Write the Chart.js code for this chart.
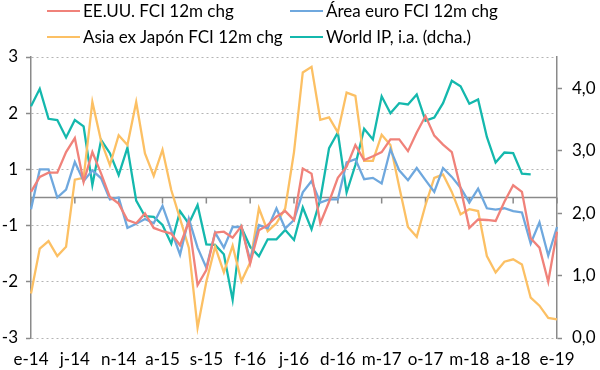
<!DOCTYPE html>
<html>
<head>
<meta charset="utf-8">
<script src="https://cdn.jsdelivr.net/npm/chart.js@4"></script>
<style>
	body { margin: 0; background: #fff; }
	#wrap { position: relative; width: 600px; height: 370px; }
	#legend { position: absolute; left: 0; top: 0; width: 600px; height: 50px; font: 17px Lato, sans-serif; color: #000; }
	.legend-item { position: absolute; height: 20px; line-height: 20px; display: flex; align-items: center; white-space: nowrap; }
	.legend-swatch { width: 33px; height: 2px; margin-right: 3px; }
</style>
</head>
<body>
<div id="wrap">
	<canvas id="chart-canvas" width="600" height="370"></canvas>
	<div id="legend"></div>
</div>
<script>
var months = [
	"e-14","f-14","m-14","a-14","m-14","j-14","j-14","a-14","s-14","o-14","n-14","d-14",
	"e-15","f-15","m-15","a-15","m-15","j-15","j-15","a-15","s-15","o-15","n-15","d-15",
	"e-16","f-16","m-16","a-16","m-16","j-16","j-16","a-16","s-16","o-16","n-16","d-16",
	"e-17","f-17","m-17","a-17","m-17","j-17","j-17","a-17","s-17","o-17","n-17","d-17",
	"e-18","f-18","m-18","a-18","m-18","j-18","j-18","a-18","s-18","o-18","n-18","d-18",
	"e-19"
];

var usFci = [
	0.12, 0.44, 0.53, 0.53, 0.97, 1.27, 0.33, 0.97, 0.51, 0.01, -0.13, -0.48,
	-0.55, -0.34, -0.65, -0.72, -0.77, -1.02, -0.52, -1.87, -1.55, -0.75, -0.73, -0.86,
	-0.61, -1.41, -0.70, -0.59, -0.41, -0.29, -0.48, 0.62, 0.51, -0.55, -0.09, 0.42,
	0.66, 1.12, 0.80, 0.88, 0.97, 1.24, 1.24, 0.99, 1.39, 1.74, 1.32, 1.13,
	0.97, 0.20, -0.65, -0.47, -0.48, -0.50, -0.09, 0.26, 0.12, -0.87, -1.07, -1.80,
	-0.73
];

var euroFci = [
	-0.25, 0.60, 0.60, 0.00, 0.17, 0.76, 0.35, 0.58, 0.41, -0.04, 0.00, -0.65,
	-0.56, -0.46, -0.55, -0.18, -0.70, -1.22, -0.45, -1.07, -1.50, -0.75, -1.07, -0.63,
	-0.63, -1.34, -0.59, -0.66, -0.23, -0.66, -0.48, 0.11, 0.35, -0.11, -0.04, -0.04,
	0.75, 0.82, 0.39, 0.42, 0.30, 1.03, 0.58, 0.37, 0.63, 0.37, 0.12, 0.63,
	0.44, 0.21, -0.11, 0.19, -0.23, -0.26, -0.23, -0.29, -0.32, -0.98, -0.53, -1.24,
	-0.63
];

var asiaFci = [
	-2.05, -1.09, -0.93, -1.25, -1.05, 0.38, 0.42, 2.04, 1.20, 0.69, 1.33, 1.12,
	2.04, 0.94, 0.46, 1.02, 0.16, -0.45, -1.07, -2.78, -1.80, -1.05, -1.60, -1.03,
	-1.79, -1.39, -0.23, -0.72, -0.55, -0.23, 0.97, 2.67, 2.79, 1.66, 1.71, 1.39,
	2.24, 2.17, 0.78, 0.78, 1.34, 1.12, 0.23, -0.63, -0.84, -0.16, 0.42, 0.49,
	0.12, -0.36, -0.25, -0.29, -1.25, -1.60, -1.37, -1.32, -1.43, -2.14, -2.31, -2.57,
	-2.60
];

var worldIp = [
	3.71, 3.99, 3.51, 3.49, 3.21, 3.49, 3.39, 2.45, 3.17, 2.96, 2.61, 3.05,
	2.20, 1.95, 1.94, 1.81, 1.51, 2.03, 1.83, 2.13, 1.50, 1.49, 1.34, 0.61,
	1.77, 1.46, 1.31, 1.58, 1.58, 1.73, 1.57, 2.09, 1.74, 2.22, 3.04, 3.29,
	2.33, 2.77, 3.35, 3.18, 3.87, 3.60, 3.76, 3.74, 3.90, 3.48, 3.53, 3.76,
	4.12, 4.03, 3.75, 3.82, 3.22, 2.81, 2.97, 2.96, 2.63, 2.62, null, null,
	null
];

var seriesNames = ["EE.UU. FCI 12m chg", "Área euro FCI 12m chg", "Asia ex Japón FCI 12m chg", "World IP, i.a. (dcha.)"];
var seriesColors = ["#f0827a", "#6fa8de", "#fcc064", "#14b8ad"];

window.onload = function() {
	buildLegend();
	drawChart();
}

function buildLegend() {
	var legend = document.getElementById("legend");
	var columnsLeft = [47, 290];
	var rowsTop = [1, 27];

	for(let i = 0; i < seriesNames.length; i++) {
		var item = document.createElement("div");
		var swatch = document.createElement("span");
		var label = document.createElement("span");

		item.className = "legend-item";
		item.style.left = columnsLeft[i % 2] + "px";
		item.style.top = rowsTop[Math.floor(i / 2)] + "px";

		swatch.className = "legend-swatch";
		swatch.style.background = seriesColors[i];

		label.innerText = seriesNames[i];

		item.appendChild(swatch);
		item.appendChild(label);
		legend.appendChild(item);
	}
}

// zero line of the left axis, with the month ticks hanging below it
var zeroAxisPlugin = {
	id: "zeroAxis",
	beforeDatasetsDraw: function(chart) {
		var ctx = chart.ctx;
		var area = chart.chartArea;
		var xScale = chart.scales.x;
		var y0 = chart.scales.y.getPixelForValue(0);

		ctx.save();
		ctx.strokeStyle = "#8a8a8a";
		ctx.lineWidth = 1.5;
		ctx.beginPath();
		ctx.moveTo(area.left, y0);
		ctx.lineTo(area.right, y0);
		for(let i = 0; i < months.length; i += 5) {
			var px = xScale.getPixelForValue(i);
			ctx.moveTo(px, y0);
			ctx.lineTo(px, y0 + 6);
		}
		ctx.stroke();
		ctx.restore();
	}
};

function makeDataset(index, values, axis) {
	return {
		label: seriesNames[index],
		data: values,
		yAxisID: axis,
		borderColor: seriesColors[index],
		backgroundColor: seriesColors[index],
		borderWidth: 2.3,
		pointRadius: 0,
		tension: 0,
		spanGaps: false
	};
}

function drawChart() {
	Chart.defaults.font.family = "Lato, sans-serif";
	Chart.defaults.font.size = 17;
	Chart.defaults.color = "#000";

	window.fciChart = new Chart(document.getElementById("chart-canvas"), {
		type: "line",
		data: {
			labels: months,
			datasets: [
				makeDataset(0, usFci, "y"),
				makeDataset(1, euroFci, "y"),
				makeDataset(2, asiaFci, "y"),
				makeDataset(3, worldIp, "y1")
			]
		},
		options: {
			responsive: false,
			animation: false,
			layout: {
				padding: { top: 57, left: 0, right: 0, bottom: 0 }
			},
			plugins: {
				legend: { display: false },
				tooltip: { enabled: false }
			},
			scales: {
				x: {
					offset: false,
					grid: { display: false },
					border: { display: false },
					ticks: {
						autoSkip: false,
						maxRotation: 0,
						padding: 3,
						callback: function(value, index) {
							return index % 5 === 0 ? months[index] : null;
						}
					},
					afterFit: function(scale) { scale.height = 32; }
				},
				y: {
					position: "left",
					min: -3,
					max: 3,
					grid: {
						color: "#b4b4b4",
						lineWidth: 1,
						tickColor: "#8a8a8a",
						tickLength: 5,
						tickWidth: 1.5
					},
					border: { display: true, color: "#8a8a8a", width: 1.5, dash: [2, 3] },
					ticks: {
						stepSize: 1.2,
						padding: 8,
						callback: function(value) { return Math.round(value); }
					},
					afterFit: function(scale) { scale.width = 31; }
				},
				y1: {
					position: "right",
					min: 0,
					max: 4.5,
					grid: {
						drawOnChartArea: false,
						color: "#8a8a8a",
						tickLength: 5,
						tickWidth: 1.5
					},
					border: { display: true, color: "#8a8a8a", width: 1.5 },
					ticks: {
						stepSize: 1,
						includeBounds: false,
						padding: 10,
						callback: function(value) { return value.toFixed(1).replace(".", ","); }
					},
					afterFit: function(scale) { scale.width = 43; }
				}
			}
		},
		plugins: [zeroAxisPlugin]
	});
}
</script>
</body>
</html>
